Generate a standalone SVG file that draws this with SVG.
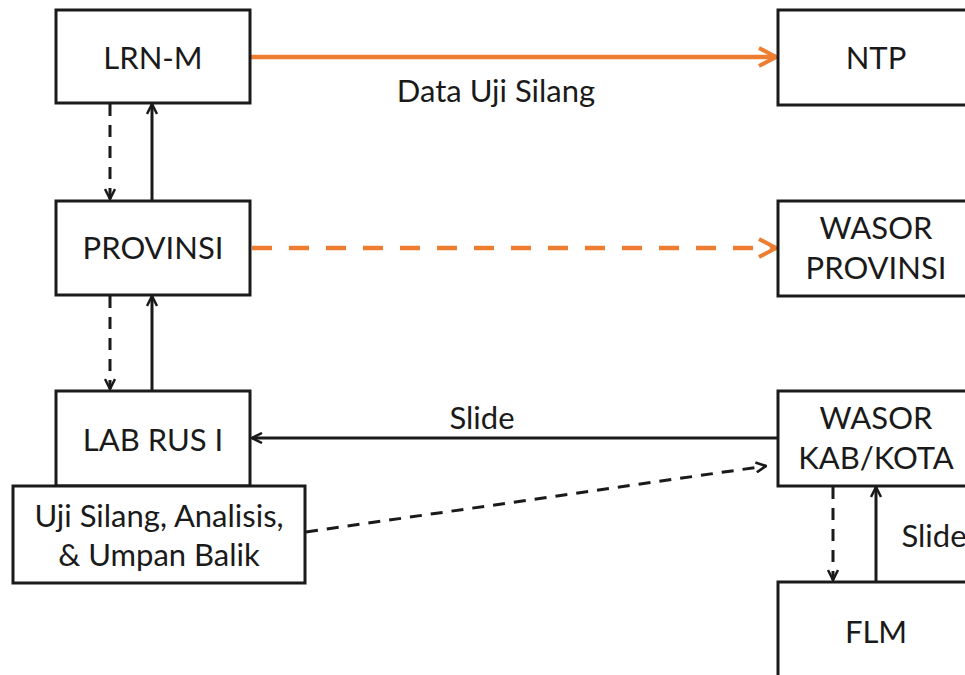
<svg xmlns="http://www.w3.org/2000/svg" width="965" height="675" viewBox="0 0 965 675">
  <style>
    .box { fill: #fff; stroke: #1a1a1a; stroke-width: 3; }
    .lbl { font-family: Lato, "Open Sans", sans-serif; font-size: 31px; fill: #1a1a1a; text-anchor: middle; }
    .blk { fill: none; stroke: #1a1a1a; stroke-width: 3; }
    .dash { stroke-dasharray: 12 9; }
    .org { fill: none; stroke: #ed7d31; stroke-width: 4.5; }
    .odash { stroke-dasharray: 20 17; }
  </style>
  <defs>
    <marker id="ah" viewBox="0 0 12 12" refX="11" refY="6" markerWidth="12" markerHeight="12" markerUnits="userSpaceOnUse" orient="auto">
      <path d="M1,1 L11,6 L1,11" fill="none" stroke="#1a1a1a" stroke-width="2.5"/>
    </marker>
    <marker id="ahO" viewBox="0 0 22 22" refX="20" refY="11" markerWidth="22" markerHeight="22" markerUnits="userSpaceOnUse" orient="auto">
      <path d="M3,2 L20,11 L3,20" fill="none" stroke="#ed7d31" stroke-width="4"/>
    </marker>
  </defs>

  <g id="connectors">
    <line class="org" x1="250" y1="57" x2="776" y2="57" marker-end="url(#ahO)"/>
    <line class="org odash" x1="252" y1="248" x2="776" y2="248" marker-end="url(#ahO)"/>
    <line class="blk dash" x1="110" y1="104" x2="110" y2="199" marker-end="url(#ah)"/>
    <line class="blk" x1="152" y1="200" x2="152" y2="104" marker-end="url(#ah)"/>
    <line class="blk dash" x1="110" y1="296" x2="110" y2="389" marker-end="url(#ah)"/>
    <line class="blk" x1="152" y1="390" x2="152" y2="296" marker-end="url(#ah)"/>
    <line class="blk" x1="778" y1="438" x2="252" y2="438" marker-end="url(#ah)"/>
    <line class="blk dash" x1="306" y1="532" x2="766" y2="466" marker-end="url(#ah)"/>
    <line class="blk dash" x1="833" y1="487" x2="833" y2="580" marker-end="url(#ah)"/>
    <line class="blk" x1="876" y1="582" x2="876" y2="487" marker-end="url(#ah)"/>
    <text class="lbl" x="496" y="102">Data Uji Silang</text>
    <text class="lbl" x="482" y="429">Slide</text>
    <text class="lbl" x="934" y="547">Slide</text>
  </g>

  <g id="lrn-m">
    <rect class="box" x="56" y="10" width="194" height="93"/>
    <text class="lbl" x="153" y="69">LRN-M</text>
  </g>
  <g id="provinsi">
    <rect class="box" x="56" y="201" width="194" height="94"/>
    <text class="lbl" x="153" y="259">PROVINSI</text>
  </g>
  <g id="lab-rus">
    <rect class="box" x="56" y="391" width="194" height="95"/>
    <text class="lbl" x="153" y="451">LAB RUS I</text>
  </g>
  <g id="uji-silang">
    <rect class="box" x="13" y="486" width="292" height="97"/>
    <text class="lbl" x="159" y="527">Uji Silang, Analisis,</text>
    <text class="lbl" x="159" y="566">&amp; Umpan Balik</text>
  </g>
  <g id="ntp">
    <rect class="box" x="778" y="10" width="200" height="95"/>
    <text class="lbl" x="876" y="69">NTP</text>
  </g>
  <g id="wasor-provinsi">
    <rect class="box" x="778" y="201" width="200" height="95"/>
    <text class="lbl" x="876" y="239">WASOR</text>
    <text class="lbl" x="876" y="279">PROVINSI</text>
  </g>
  <g id="wasor-kab">
    <rect class="box" x="778" y="391" width="200" height="95"/>
    <text class="lbl" x="876" y="429">WASOR</text>
    <text class="lbl" x="876" y="469">KAB/KOTA</text>
  </g>
  <g id="flm">
    <rect class="box" x="778" y="582" width="200" height="110"/>
    <text class="lbl" x="876" y="643">FLM</text>
  </g>
</svg>
